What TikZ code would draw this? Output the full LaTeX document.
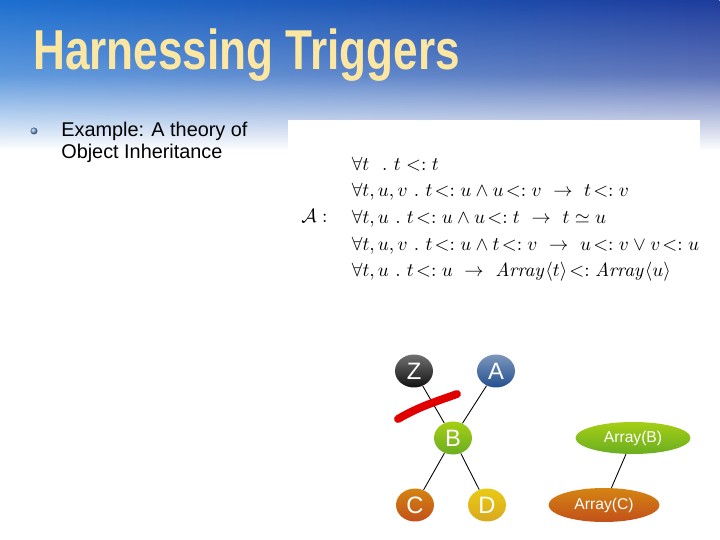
\documentclass[tikz,border=0pt]{standalone}
\usepackage{amsmath,amssymb}
\usepackage[no-math]{fontspec}
\usepackage{tikz}
\usetikzlibrary{shapes.geometric,fadings}
\newfontfamily\arial{Liberation Sans}
\definecolor{hdrleft}{HTML}{1C6FD0}
\definecolor{hdrright}{HTML}{1E3C9C}
\definecolor{titlegold}{HTML}{FBE6A2}
\definecolor{nodeblack}{HTML}{111111}
\definecolor{nodeblue}{HTML}{24508F}
\definecolor{nodegreen}{HTML}{6AAE22}
\definecolor{nodeorange}{HTML}{C2501A}
\definecolor{nodegold}{HTML}{D9A820}
\definecolor{strikered}{HTML}{E00000}
\newcommand{\subty}{\!\mathrel{<:}}
\tikzfading[name=hdrfade, top color=transparent!0, bottom color=transparent!100, middle color=transparent!30]
\tikzset{
  treenode/.style={ellipse, inner sep=0pt, minimum width=0.76cm, minimum height=0.66cm,
    text=white, font=\arial\fontsize{13.5}{13.5}\selectfont},
  arraynode/.style={ellipse, inner sep=0pt, minimum width=2.26cm, minimum height=0.66cm,
    text=white, font=\arial\fontsize{8.9}{8.9}\selectfont},
  link/.style={black, line width=0.5pt},
}
\begin{document}
\begin{tikzpicture}[x=0.02cm,y=-0.02cm]
  \useasboundingbox (0,0) rectangle (720,540);
  \fill[white] (0,0) rectangle (720,540);
  % header
  \shade[left color=hdrleft, right color=hdrright, path fading=hdrfade] (0,0) rectangle (720,150);
  \node[anchor=base west, inner sep=0pt, text=titlegold, font=\arial\bfseries\fontsize{32}{32}\selectfont]
    (title) at (33,70) {\scalebox{0.785}[1]{Harnessing Triggers}};
  % bullet
  \shade[ball color={rgb,255:red,120;green,165;blue,215}] (34,131) circle (3.5);
  \node[anchor=north west, inner sep=0pt, align=left, font=\arial\fontsize{11.3}{12.5}\selectfont]
    (example) at (61,122) {Example: A theory of\\Object Inheritance};
  % axioms
  \fill[white] (288,120) rectangle (700,300);
  \node[anchor=base west, inner sep=0pt, font=\fontsize{10.85}{12.5}\selectfont] (axioms) at (301,223)
    {\renewcommand{\arraystretch}{1.216}%
     $\mathcal{A}:\hspace{1.0em}\begin{array}{@{}l}
       \forall t\ \ .\ t <: t\\
       \forall t,u,v\ .\ t\subty u\wedge u\subty v\ \rightarrow\ t\subty v\\
       \forall t,u\ .\ t\subty u\wedge u\subty t\ \rightarrow\ t\simeq u\\
       \forall t,u,v\ .\ t\subty u\wedge t\subty v\ \rightarrow\ u\subty v\vee v\subty u\\
       \forall t,u\ .\ t\subty u\ \rightarrow\ \mathit{Array}\langle t\rangle\subty \mathit{Array}\langle u\rangle
     \end{array}$};
  % tree
  \node[treenode, top color=nodeblack!60, bottom color=nodeblack] (Z) at (414,371) {Z};
  \node[treenode, top color=nodeblue!60, bottom color=nodeblue] (A) at (496,371) {A};
  \node[treenode, top color=nodegreen!60!yellow, bottom color=nodegreen] (B) at (453,438) {B};
  \node[treenode, top color=nodeorange!70!yellow, bottom color=nodeorange] (C) at (415,505) {C};
  \node[treenode, top color=nodegold!60!yellow, bottom color=nodegold] (D) at (487,505) {D};
  \node[arraynode, minimum width=2.3cm, minimum height=0.64cm, top color=nodegreen!60!yellow, bottom color=nodegreen] (arrB) at (633,438) {Array(B)};
  \node[arraynode, minimum width=2.22cm, minimum height=0.68cm, top color=nodeorange!70!yellow, bottom color=nodeorange] (arrC) at (604,505) {Array(C)};
  \draw[link] (Z) -- (B);
  \draw[link] (A) -- (B);
  \draw[link] (B) -- (C);
  \draw[link] (B) -- (D);
  \draw[link] (arrB) -- (arrC);
  % crossed out
  \draw[strikered, line width=4.5pt, line cap=round] (398,419) .. controls (420,406) and (438,401) .. (457,394);
\end{tikzpicture}
\end{document}
